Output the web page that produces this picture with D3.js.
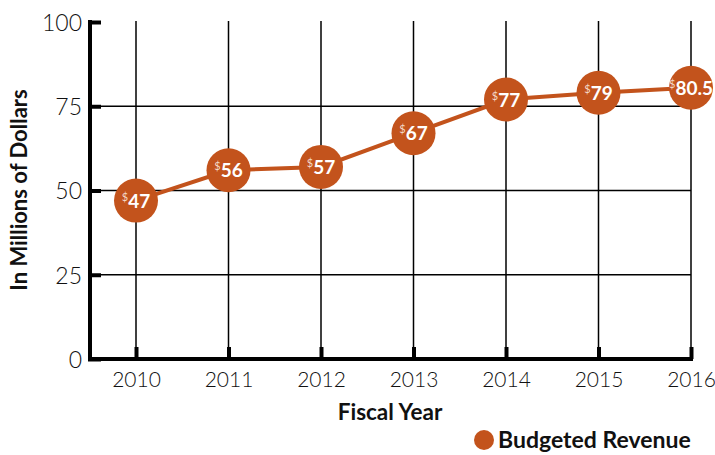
<!DOCTYPE html>
<html>
<head>
<meta charset="utf-8">
<script src="https://cdn.jsdelivr.net/npm/d3@7"></script>
<style>
  html, body { margin: 0; padding: 0; background: #fff; }
  svg text { font-family: Lato, "Open Sans", sans-serif; }
</style>
</head>
<body>
<svg id="chart" width="715" height="455"></svg>
<script>
// Budgeted revenue by fiscal year, in millions of dollars
const years = ["2010", "2011", "2012", "2013", "2014", "2015", "2016"];
const revenue = [47, 56, 57, 67, 77, 79, 80.5];
const yTicks = [0, 25, 50, 75, 100];
const seriesName = "Budgeted Revenue";

const orange = "#c3531c";
const svg = d3.select("#chart");

const x = d3.scalePoint().domain(years).range([136, 691]);
const y = d3.scaleLinear().domain([0, 100]).range([359, 22]);

// vertical grid lines
svg.append("g").selectAll("line").data(years).join("line")
  .attr("x1", d => x(d)).attr("x2", d => x(d))
  .attr("y1", y(100) - 1).attr("y2", y(0))
  .attr("stroke", "#000").attr("stroke-width", 1.5);

// horizontal grid lines
svg.append("g").selectAll("line").data(yTicks.filter(t => t > 0 && t < 100)).join("line")
  .attr("x1", 90).attr("x2", x("2016"))
  .attr("y1", d => y(d)).attr("y2", d => y(d))
  .attr("stroke", "#000").attr("stroke-width", 1.5);

// y axis
const yAxis = d3.axisLeft(y).tickValues(yTicks).tickSize(0).tickPadding(8);
const gy = svg.append("g").attr("transform", "translate(90,0)").call(yAxis);
gy.select(".domain").remove();
gy.selectAll("text").attr("font-size", 23).attr("fill", "#111").attr("font-weight", 300)
  .attr("font-family", "Lato, sans-serif").attr("dy", "0.36em");
// thick tick stubs
gy.selectAll(".tick").append("line")
  .attr("x1", -2).attr("x2", 11).attr("y1", 0).attr("y2", 0)
  .attr("stroke", "#000").attr("stroke-width", 4);

// x axis
const xAxis = d3.axisBottom(x).tickSize(0).tickPadding(13);
const gx = svg.append("g").attr("transform", `translate(0,${y(0)})`).call(xAxis);
gx.select(".domain").remove();
gx.selectAll("text").attr("font-size", 21).attr("fill", "#111").attr("font-weight", 300)
  .attr("font-family", "Lato, sans-serif");
gx.selectAll(".tick").append("line")
  .attr("x1", 0).attr("x2", 0).attr("y1", -12).attr("y2", 0)
  .attr("stroke", "#000").attr("stroke-width", 4);

// axis lines
svg.append("line").attr("x1", 90).attr("x2", 90)
  .attr("y1", y(100) - 2).attr("y2", y(0) + 2)
  .attr("stroke", "#000").attr("stroke-width", 4);
svg.append("line").attr("x1", 88).attr("x2", x("2016") + 2)
  .attr("y1", y(0)).attr("y2", y(0))
  .attr("stroke", "#000").attr("stroke-width", 4);

// revenue line
const pts = years.map((yr, i) => ({ yr, v: revenue[i] }));
svg.append("path").datum(pts)
  .attr("d", d3.line().x(d => x(d.yr)).y(d => y(d.v)))
  .attr("fill", "none").attr("stroke", orange).attr("stroke-width", 4);

// markers with value labels
const mk = svg.append("g").selectAll("g").data(pts).join("g")
  .attr("transform", d => `translate(${x(d.yr)},${y(d.v)})`);
mk.append("circle").attr("r", 22).attr("fill", orange);
const lbl = mk.append("text").attr("text-anchor", "middle").attr("y", 7)
  .attr("fill", "#fff").attr("font-weight", 700).attr("font-size", 19);
lbl.append("tspan").text("$").attr("font-size", 11).attr("font-weight", 400)
  .attr("fill", "#f3d8c8").attr("dy", -7);
lbl.append("tspan").text(d => d.v).attr("dy", 7);

// axis titles
svg.append("text").attr("transform", "translate(27,190) rotate(-90)")
  .attr("text-anchor", "middle").attr("font-size", 22).attr("font-weight", 700)
  .attr("fill", "#111").text("In Millions of Dollars");
svg.append("text").attr("x", 390).attr("y", 420)
  .attr("text-anchor", "middle").attr("font-size", 22.5).attr("font-weight", 700)
  .attr("fill", "#111").text("Fiscal Year");

// legend
svg.append("circle").attr("cx", 484).attr("cy", 440).attr("r", 10).attr("fill", orange);
svg.append("text").attr("x", 498).attr("y", 448)
  .attr("font-size", 23).attr("font-weight", 700).attr("fill", "#111").text(seriesName);
</script>
</body>
</html>
